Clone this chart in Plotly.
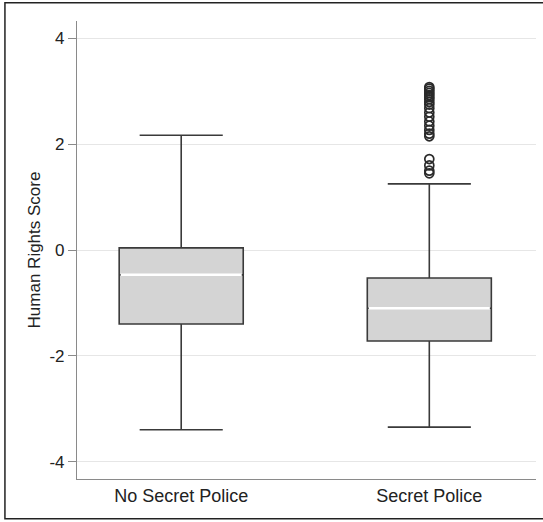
import plotly.graph_objects as go

categories = ["No Secret Police", "Secret Police"]
q1 = [-1.40, -1.72]
median = [-0.47, -1.10]
q3 = [0.04, -0.53]
lower_whisker = [-3.40, -3.35]
upper_whisker = [2.17, 1.25]
outliers_secret = [3.08, 3.05, 3.01, 2.97, 2.93, 2.89, 2.85, 2.80, 2.75, 2.68, 2.60,
                   2.52, 2.43, 2.35, 2.27, 2.20, 2.15, 1.72, 1.60, 1.50, 1.45]
y_ticks = [-4, -2, 0, 2, 4]

FONT = "Liberation Sans, Arial, sans-serif"
fig = go.Figure()
positions = list(range(len(categories)))
box_w = 0.5
for i, cat in enumerate(categories):
    fig.add_trace(go.Box(
        x=[positions[i]], q1=[q1[i]], median=[median[i]], q3=[q3[i]],
        lowerfence=[lower_whisker[i]], upperfence=[upper_whisker[i]],
        width=box_w, whiskerwidth=0.67, fillcolor="#d4d4d4",
        line=dict(color="#3a3a3a", width=1.6), boxpoints=False,
        showlegend=False, hoverinfo="skip", name=cat))
    fig.add_trace(go.Scatter(
        x=[positions[i] - box_w / 2 + 0.006, positions[i] + box_w / 2 - 0.006],
        y=[median[i], median[i]], mode="lines",
        line=dict(color="white", width=2.5), showlegend=False, hoverinfo="skip"))

fig.add_trace(go.Scatter(
    x=[positions[1]] * len(outliers_secret), y=outliers_secret, mode="markers",
    marker=dict(symbol="circle-open", size=9, color="#2a2a2a", line=dict(width=1.7)),
    showlegend=False, hoverinfo="skip"))

# outer frame: top, left and bottom edges
fig.add_shape(type="path", xref="paper", yref="paper",
              path="M 1.2 1.040 L -0.157 1.040 L -0.157 -0.087 L 1.2 -0.087",
              line=dict(color="#222222", width=1.5), layer="above")

fig.update_layout(
    width=543, height=522,
    margin=dict(l=77, r=7, t=21, b=43, autoexpand=False),
    paper_bgcolor="white", plot_bgcolor="white",
    font=dict(family=FONT, size=17, color="#222222"),
    xaxis=dict(range=[-0.42, 1.43], tickvals=positions, ticktext=categories,
               showgrid=False, showline=True, linecolor="#8a8a8a", linewidth=1.2,
               ticks="", zeroline=False, tickfont=dict(size=18), automargin=False),
    yaxis=dict(range=[-4.33, 4.33], tickvals=y_ticks,
               ticktext=[str(v) for v in y_ticks],
               showgrid=True, gridcolor="#e6e6e6", gridwidth=1,
               showline=True, linecolor="#8a8a8a", linewidth=1.2,
               ticks="outside", ticklen=8, tickcolor="#8a8a8a",
               zeroline=False, tickfont=dict(size=17), automargin=False,
               title=dict(text="Human Rights Score", font=dict(size=17), standoff=4)),
)

fig.write_html("out.html", config={"displayModeBar": False},
               post_script="document.body.style.margin='0';document.body.style.overflow='hidden';")
